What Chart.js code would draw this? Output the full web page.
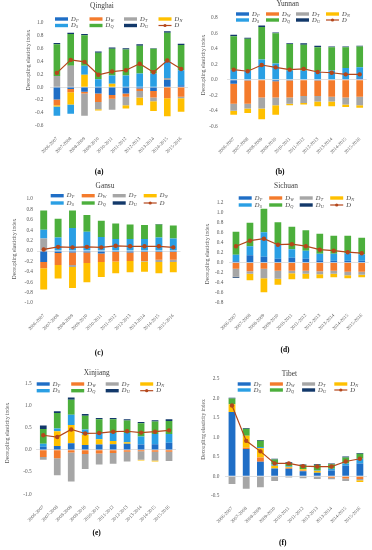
<!DOCTYPE html>
<html>
<head>
<meta charset="utf-8">
<script src="https://cdn.jsdelivr.net/npm/chart.js@4.4.0/dist/chart.umd.min.js"></script>
<style>
  html, body { margin: 0; padding: 0; background: #fff; }
  #page { position: relative; width: 372px; height: 550px; overflow: hidden; }
  canvas { position: absolute; }
</style>
</head>
<body>
<div id="page"></div>
<script>
const periods = ['2006-2007', '2007-2008', '2008-2009', '2009-2010', '2010-2011',
  '2011-2012', '2012-2013', '2013-2014', '2014-2015', '2015-2016'];

// Qinghai
const qinghaiP = [-0.19, -0.03, -0.07, -0.10, -0.12, -0.10, -0.02, -0.06, 0.11, 0.03];
const qinghaiW = [-0.09, -0.05, -0.03, -0.13, -0.06, -0.05, -0.04, -0.10, -0.17, -0.15];
const qinghaiT = [0.17, 0.33, -0.34, -0.11, -0.17, -0.13, -0.10, -0.06, 0.03, -0.02];
const qinghaiN = [-0.02, -0.19, 0.19, -0.02, 0.05, -0.05, -0.12, -0.15, -0.28, -0.21];
const qinghaiS = [-0.14, -0.14, 0.14, 0.12, 0.13, 0.18, 0.21, 0.21, 0.26, 0.23];
const qinghaiQ = [0.49, 0.49, 0.47, 0.41, 0.41, 0.40, 0.43, 0.38, 0.44, 0.39];
const qinghaiU = [0.02, 0.02, 0.02, 0.02, 0.02, 0.02, 0.02, 0.01, 0.02, 0.02];
const qinghaiD = [0.22, 0.42, 0.39, 0.19, 0.24, 0.26, 0.36, 0.23, 0.41, 0.28];

// Yunnan
const yunnanP = [-0.05, -0.01, 0, -0.02, -0.01, 0, -0.01, 0, 0.01, 0.02];
const yunnanW = [-0.26, -0.30, -0.23, -0.21, -0.22, -0.21, -0.20, -0.22, -0.23, -0.22];
const yunnanT = [-0.09, -0.06, -0.14, -0.10, -0.08, -0.09, -0.07, -0.06, -0.09, -0.11];
const yunnanN = [-0.05, -0.06, -0.14, -0.12, -0.02, -0.02, -0.06, -0.06, -0.03, -0.03];
const yunnanS = [0.13, 0.12, 0.26, 0.21, 0.12, 0.12, 0.11, 0.12, 0.14, 0.14];
const yunnanQ = [0.43, 0.41, 0.42, 0.39, 0.34, 0.33, 0.31, 0.30, 0.27, 0.27];
const yunnanU = [0.02, 0.01, 0.02, 0.01, 0.01, 0.02, 0.02, 0.01, 0.01, 0.01];
const yunnanD = [0.13, 0.11, 0.19, 0.16, 0.13, 0.14, 0.10, 0.09, 0.07, 0.07];

// Gansu
const gansuP = [-0.21, -0.04, -0.03, -0.03, -0.05, -0.02, -0.03, -0.02, -0.02, -0.02];
const gansuW = [-0.12, -0.23, -0.24, -0.20, -0.16, -0.18, -0.16, -0.17, -0.15, -0.15];
const gansuT = [0.24, 0, -0.04, 0, 0, 0, 0, -0.01, -0.04, -0.04];
const gansuN = [-0.41, -0.26, -0.40, -0.37, -0.29, -0.23, -0.22, -0.20, -0.22, -0.20];
const gansuS = [0.17, 0.26, 0.44, 0.37, 0.27, 0.23, 0.23, 0.23, 0.26, 0.24];
const gansuQ = [0.37, 0.36, 0.34, 0.32, 0.31, 0.30, 0.28, 0.27, 0.25, 0.25];
const gansuU = [0, 0, 0, 0, 0, 0, 0, 0, 0.01, 0];
const gansuD = [0.03, 0.08, 0.07, 0.08, 0.07, 0.10, 0.09, 0.09, 0.09, 0.07];

// Sichuan
const sichuanP = [0.03, 0.15, 0.12, 0.08, 0.10, 0.08, 0.05, 0.04, 0.04, 0.04];
const sichuanW = [-0.12, -0.17, -0.12, -0.16, -0.16, -0.16, -0.17, -0.16, -0.18, -0.18];
const sichuanT = [-0.16, -0.05, -0.19, -0.16, -0.05, -0.06, -0.06, -0.06, -0.07, -0.06];
const sichuanN = [0, -0.13, -0.28, -0.12, -0.12, -0.10, -0.08, -0.07, -0.06, -0.05];
const sichuanS = [0.13, 0.18, 0.49, 0.28, 0.17, 0.16, 0.13, 0.14, 0.15, 0.13];
const sichuanQ = [0.46, 0.47, 0.47, 0.45, 0.45, 0.41, 0.40, 0.36, 0.35, 0.33];
const sichuanU = [-0.02, 0, 0, 0, 0, 0, 0, 0, 0, 0];
const sichuanD = [0.33, 0.44, 0.48, 0.36, 0.37, 0.33, 0.26, 0.24, 0.21, 0.19];

// Xinjiang
const xinjiangP = [0.07, 0.09, 0.15, 0.11, 0.12, 0.13, 0.14, 0.12, 0.13, 0.16];
const xinjiangW = [-0.16, -0.19, -0.06, -0.09, -0.08, -0.07, -0.04, -0.03, -0.04, -0.04];
const xinjiangT = [-0.06, -0.38, -0.65, -0.34, -0.25, -0.24, -0.22, -0.19, -0.20, -0.21];
const xinjiangN = [0, 0.33, 0.41, 0.23, 0.12, 0.07, 0.03, -0.02, -0.02, 0];
const xinjiangS = [0.07, 0.06, 0.23, 0.12, 0.14, 0.18, 0.21, 0.18, 0.23, 0.20];
const xinjiangQ = [0.33, 0.35, 0.34, 0.31, 0.31, 0.31, 0.28, 0.30, 0.28, 0.29];
const xinjiangU = [0.08, 0.04, 0.05, 0.04, 0.03, 0.03, 0.03, 0.03, 0.03, 0.04];
const xinjiangD = [0.33, 0.29, 0.46, 0.37, 0.38, 0.41, 0.42, 0.39, 0.41, 0.44];

// Tibet
const tibetP = [1.65, 0.70, 0.37, 0.20, 0.19, 0.13, 0.09, 0.15, 0.27, 0.33];
const tibetW = [0, 0.03, 0.11, 0, 0.03, 0.02, 0, -0.04, -0.06, -0.07];
const tibetT = [-0.20, -0.32, -0.28, -0.12, -0.03, -0.05, -0.07, -0.04, -0.06, -0.03];
const tibetN = [0.20, 0.31, 0.24, 0.07, 0.02, 0.03, 0.05, 0, 0, -0.05];
const tibetS = [0, 0, 0.03, 0.03, 0.01, 0, 0.02, 0.04, 0.06, 0.12];
const tibetQ = [0.15, 0.18, 0.16, 0.13, 0.09, 0.11, 0.13, 0.12, 0.15, 0.13];
const tibetU = [0.02, 0.02, 0.02, 0.02, 0.02, 0.01, 0.02, 0.02, 0.03, 0.02];
const tibetD = [1.82, 0.91, 0.64, 0.33, 0.33, 0.26, 0.25, 0.25, 0.38, 0.45];

const componentSubs = ['P', 'W', 'T', 'N', 'S', 'Q', 'U'];
const componentColors = ['#1f6ec6', '#f47b2c', '#a6a6a6', '#ffc000', '#2a9fe4', '#4caf3c', '#12386a'];
const lineColor = '#b5471b';
const serif = '"Liberation Serif", "DejaVu Serif", serif';

const panels = [
  { name: 'Qinghai', tag: '(a)', parts: [qinghaiP, qinghaiW, qinghaiT, qinghaiN, qinghaiS, qinghaiQ, qinghaiU], d: qinghaiD,
    min: -0.6, max: 1.0, step: 0.2,
    box: [0, 0, 192, 182], area: [50, 22.3, 188, 126], gap: 6.5,
    title: [102, 6.5], legend: [55, 34.5, 19, 25.5], yTitle: [29, 60], label: [99, 172] },
  { name: 'Yunnan', tag: '(b)', parts: [yunnanP, yunnanW, yunnanT, yunnanN, yunnanS, yunnanQ, yunnanU], d: yunnanD,
    min: -0.6, max: 0.8, step: 0.2,
    box: [186, 0, 186, 182], area: [40.7, 17.7, 180.7, 126.3], gap: 9,
    title: [101.7, 4.5], legend: [50, 30, 14, 20], yTitle: [18, 65], label: [94, 172] },
  { name: 'Gansu', tag: '(c)', parts: [gansuP, gansuW, gansuT, gansuN, gansuS, gansuQ, gansuU], d: gansuD,
    min: -1.0, max: 1.0, step: 0.2,
    box: [0, 180, 186, 180], area: [36.5, 19, 180.5, 123], gap: 3.5,
    title: [105, 6], legend: [50.7, 31, 15.7, 23], yTitle: [15, 69], label: [99, 173] },
  { name: 'Sichuan', tag: '(d)', parts: [sichuanP, sichuanW, sichuanT, sichuanN, sichuanS, sichuanQ, sichuanU], d: sichuanD,
    min: -0.8, max: 1.2, step: 0.2,
    box: [186, 180, 186, 180], area: [43, 22.7, 182.7, 122.7], gap: 5.7,
    title: [100, 6], legend: [52.7, 30.5, 18, 25], yTitle: [21.7, 74], label: [99, 170] },
  { name: 'Xinjiang', tag: '(e)', parts: [xinjiangP, xinjiangW, xinjiangT, xinjiangN, xinjiangS, xinjiangQ, xinjiangU], d: xinjiangD,
    min: -1.0, max: 1.5, step: 0.5,
    box: [0, 360, 186, 190], area: [36.3, 23.3, 176, 134.3], gap: 4.6,
    title: [96.7, 13], legend: [36.7, 34.5, 24, 30.7], yTitle: [7.3, 73], label: [96.7, 172.7] },
  { name: 'Tibet', tag: '(f)', parts: [tibetP, tibetW, tibetT, tibetN, tibetS, tibetQ, tibetU], d: tibetD,
    min: -0.5, max: 2.5, step: 0.5,
    box: [186, 360, 186, 190], area: [38.9, 19, 181, 135.7], gap: 5.6,
    title: [103.3, 14], legend: [51.7, 32.2, 24, 30], yTitle: [17.3, 69.5], label: [96.7, 182.7] }
];

const drawSymbol = (ctx, x, y, sub) => {
  ctx.fillStyle = '#404040';
  ctx.textAlign = 'left';
  ctx.textBaseline = 'middle';
  ctx.font = `italic 6.5px ${serif}`;
  ctx.fillText('D', x, y);
  const w = ctx.measureText('D').width;
  if (sub) {
    ctx.font = `italic 4.3px ${serif}`;
    ctx.fillText(sub, x + w + 0.3, y + 1.6);
  }
};

const panelText = {
  id: 'panelText',
  afterDraw(chart, args, opts) {
    const p = opts.panel;
    const ctx = chart.ctx;
    ctx.save();

    ctx.fillStyle = '#404040';
    ctx.font = `7.4px ${serif}`;
    ctx.textAlign = 'center';
    ctx.textBaseline = 'middle';
    ctx.fillText(p.name, p.title[0], p.title[1]);

    const [lx, dx, y1, y2] = p.legend;
    const items = componentSubs.concat(['']);
    items.forEach((sub, i) => {
      const x = lx + (i % 4) * dx;
      const y = i < 4 ? y1 : y2;
      if (i < 7) {
        ctx.fillStyle = componentColors[i];
        ctx.fillRect(x, y - 1.7, 13, 3.4);
      } else {
        ctx.strokeStyle = lineColor;
        ctx.lineWidth = 1.2;
        ctx.beginPath();
        ctx.moveTo(x, y);
        ctx.lineTo(x + 13, y);
        ctx.stroke();
        ctx.fillStyle = lineColor;
        ctx.beginPath();
        ctx.arc(x + 6.5, y, 1.6, 0, Math.PI * 2);
        ctx.fill();
      }
      drawSymbol(ctx, x + 16, y, sub);
    });

    ctx.save();
    ctx.translate(p.yTitle[0], p.yTitle[1]);
    ctx.rotate(-Math.PI / 2);
    ctx.fillStyle = '#595959';
    ctx.font = `5.5px ${serif}`;
    ctx.textAlign = 'center';
    ctx.textBaseline = 'middle';
    ctx.fillText('Decoupling elasticity index', 0, 0);
    ctx.restore();

    ctx.fillStyle = '#000';
    ctx.font = `bold 7.5px ${serif}`;
    ctx.textAlign = 'center';
    ctx.textBaseline = 'middle';
    ctx.fillText(p.tag, p.label[0], p.label[1]);
    ctx.restore();
  }
};

const page = document.getElementById('page');

panels.forEach(p => {
  const [left, top, w, h] = p.box;
  const [al, at, ar, ab] = p.area;
  const canvas = document.createElement('canvas');
  canvas.width = w;
  canvas.height = h;
  canvas.style.left = left + 'px';
  canvas.style.top = top + 'px';
  canvas.style.width = w + 'px';
  canvas.style.height = h + 'px';
  page.appendChild(canvas);

  const datasets = [{
    type: 'line',
    label: 'D',
    data: p.d,
    borderColor: lineColor,
    backgroundColor: lineColor,
    borderWidth: 1.2,
    pointRadius: 1.6,
    pointHoverRadius: 1.6,
    tension: 0
  }];
  p.parts.forEach((values, i) => {
    datasets.push({
      type: 'bar',
      label: 'D' + componentSubs[i],
      data: values,
      backgroundColor: componentColors[i],
      borderWidth: 0,
      barPercentage: 0.48,
      categoryPercentage: 1.0
    });
  });

  new Chart(canvas.getContext('2d'), {
    data: { labels: periods, datasets: datasets },
    options: {
      responsive: false,
      animation: false,
      devicePixelRatio: 1,
      layout: { padding: { left: 0, top: at, right: w - ar, bottom: 0 } },
      plugins: {
        legend: { display: false },
        tooltip: { enabled: false },
        panelText: { panel: p }
      },
      scales: {
        x: {
          stacked: true,
          grid: { display: false },
          border: { display: false },
          ticks: {
            autoSkip: false,
            minRotation: 45,
            maxRotation: 45,
            padding: 2,
            color: '#595959',
            font: { family: serif, size: 4.8 }
          },
          afterFit: scale => { scale.height = h - ab; }
        },
        y: {
          stacked: true,
          min: p.min,
          max: p.max,
          grid: {
            drawTicks: false,
            color: c => (Math.abs(c.tick.value) < 1e-9 ? '#d9d9d9' : 'rgba(0,0,0,0)'),
            lineWidth: 0.8
          },
          border: { display: false },
          ticks: {
            stepSize: p.step,
            padding: p.gap,
            color: '#595959',
            font: { family: serif, size: 5.3 },
            callback: v => Number(v).toFixed(1)
          },
          afterFit: scale => { scale.width = al; }
        }
      }
    },
    plugins: [panelText]
  });
});
</script>
</body>
</html>
